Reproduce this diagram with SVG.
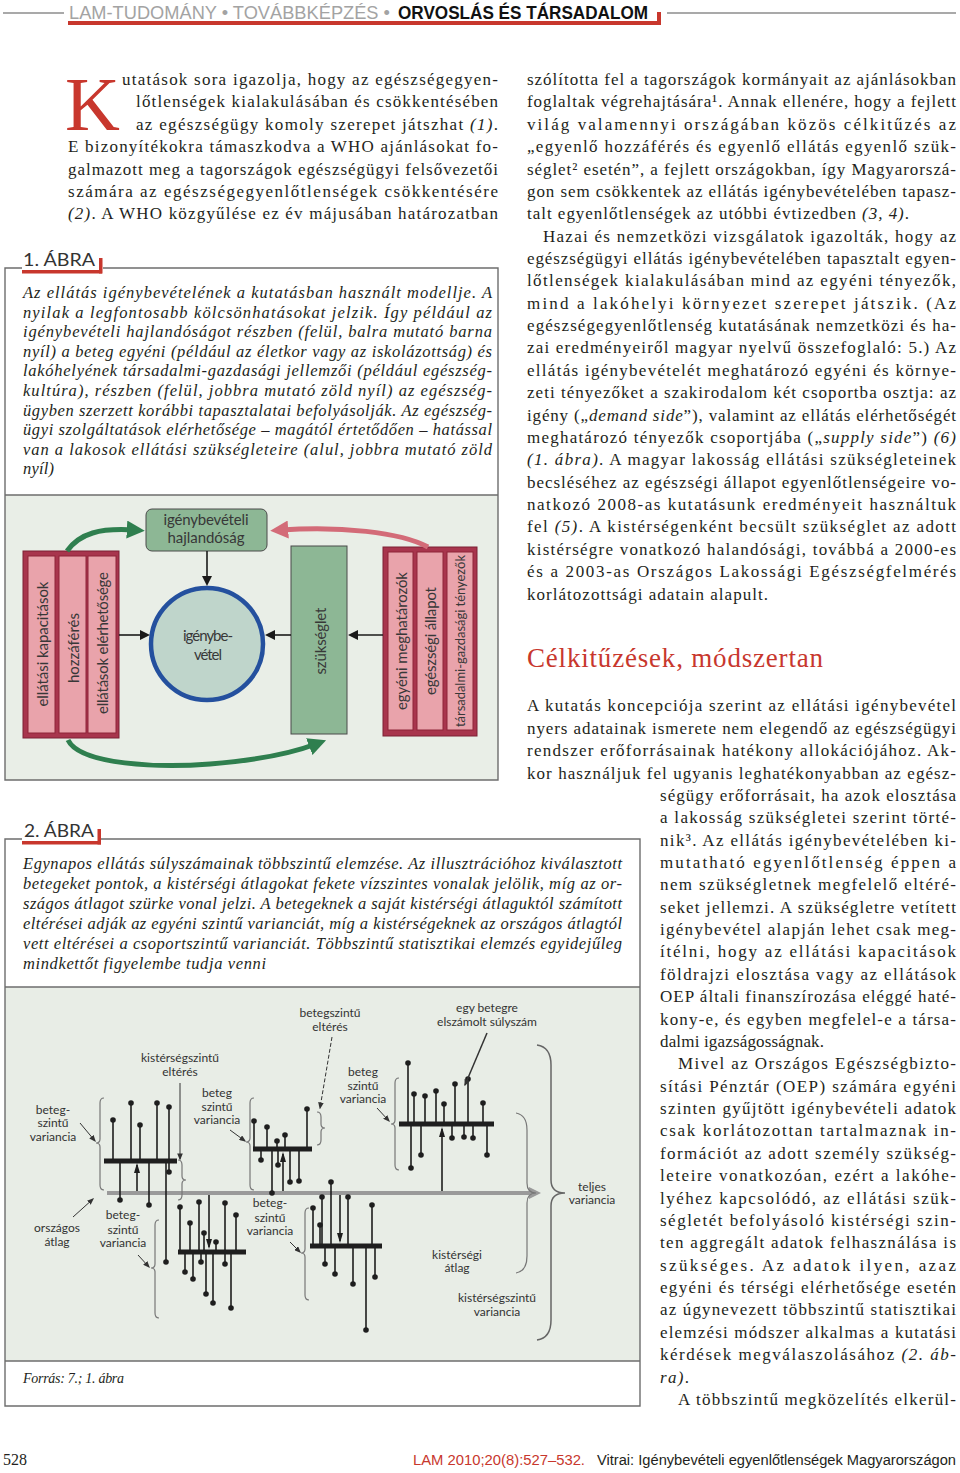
<svg xmlns="http://www.w3.org/2000/svg" width="960" height="1473" viewBox="0 0 960 1473">
<defs>
<style>
.b{font-family:"Liberation Serif","Times New Roman",serif;font-size:17px;fill:#231f20}
.i{font-style:italic}
.c{font-family:"Liberation Serif","Times New Roman",serif;font-style:italic;font-size:16.5px;fill:#231f20}
.lab{font-family:Lato,"Open Sans",sans-serif;font-size:17px;fill:#333}
.v{font-family:Lato,"Open Sans",sans-serif;font-size:15px;fill:#383838;text-anchor:middle;dominant-baseline:central}
.h{font-family:Lato,"Open Sans",sans-serif;font-size:15px;fill:#383838;text-anchor:middle}
.t2{font-family:Lato,"Open Sans",sans-serif;font-size:12px;fill:#333;text-anchor:middle}
.frame{fill:none;stroke:#6d6d6d;stroke-width:1.4}
.red{fill:#c8372d}
.stem{stroke:#1e1e1e;stroke-width:1.6;fill:none}
.bar{stroke:#1e1e1e;stroke-width:5}
.dot{fill:#1e1e1e}
.brace{fill:none;stroke:#777;stroke-width:1.2}
.ptr{stroke:#333;stroke-width:1;fill:none}
.pink{fill:#e9a3ab;stroke:#8e2438;stroke-width:1}
.crim{fill:#a8354d;stroke:#7d2035;stroke-width:1}
.grn{fill:#8db795;stroke:#4a4a4a;stroke-width:1}
.ka{stroke:#1a1a1a;stroke-width:1.6;fill:none}
</style>
<marker id="mk" viewBox="0 0 10 10" refX="8" refY="5" markerWidth="10" markerHeight="10" markerUnits="userSpaceOnUse" orient="auto"><path d="M0,0 L10,5 L0,10 z" fill="#1a1a1a"/></marker>
<marker id="mg" viewBox="0 0 10 10" refX="4" refY="5" markerWidth="18" markerHeight="18" markerUnits="userSpaceOnUse" orient="auto"><path d="M0,0 L10,5 L0,10 z" fill="#2f7f4f"/></marker>
<marker id="mr" viewBox="0 0 10 10" refX="4" refY="5" markerWidth="18" markerHeight="18" markerUnits="userSpaceOnUse" orient="auto"><path d="M0,0 L10,5 L0,10 z" fill="#d36b78"/></marker>
<marker id="ma" viewBox="0 0 10 6" refX="8" refY="3" markerWidth="10" markerHeight="6" markerUnits="userSpaceOnUse" orient="auto"><path d="M0,0 L10,3 L0,6 z" fill="#1e1e1e"/></marker>
<marker id="ms" viewBox="0 0 10 8" refX="8" refY="4" markerWidth="7" markerHeight="5.6" markerUnits="userSpaceOnUse" orient="auto"><path d="M0,0 L10,4 L0,8 z" fill="#333"/></marker>
</defs>
<rect width="960" height="1473" fill="#fff"/>

<!-- header -->
<g id="header">
<path d="M3,13 H64 M667,13 H956" stroke="#555" stroke-width="1.2"/>
<rect class="red" x="68" y="21" width="593" height="4"/>
<rect class="red" x="657" y="12" width="4" height="13"/>
<text x="69" y="19" textLength="321" lengthAdjust="spacingAndGlyphs" style="font-family:'Liberation Sans',sans-serif;font-size:19px;fill:#a3a3a3">LAM-TUDOMÁNY • TOVÁBBKÉPZÉS •</text>
<text x="398" y="19" textLength="250" lengthAdjust="spacingAndGlyphs" style="font-family:'Liberation Sans',sans-serif;font-size:19px;font-weight:bold;fill:#111">ORVOSLÁS ÉS TÁRSADALOM</text>
</g>

<!-- left column intro -->
<g id="intro">
<text x="65" y="130" style="font-family:'Liberation Serif',serif;font-size:76px;fill:#c8372d">K</text>
<text class="b" x="122" y="85" textLength="376">utatások sora igazolja, hogy az egészségegyen-</text>
<text class="b" x="136" y="107.4" textLength="362">lőtlenségek kialakulásában és csökkentésében</text>
<text class="b" x="136" y="129.7" textLength="362">az egészségügy komoly szerepet játszhat <tspan class="i">(1)</tspan>.</text>
<text class="b" x="68" y="152.1" textLength="430">E bizonyítékokra támaszkodva a WHO ajánlásokat fo-</text>
<text class="b" x="68" y="174.5" textLength="430">galmazott meg a tagországok egészségügyi felsővezetői</text>
<text class="b" x="68" y="196.9" textLength="430">számára az egészségegyenlőtlenségek csökkentésére</text>
<text class="b" x="68" y="219.2" textLength="430"><tspan class="i">(2)</tspan>. A WHO közgyűlése ez év májusában határozatban</text>
</g>

<!-- figure 1 -->
<g id="fig1">
<rect x="5" y="495" width="493" height="285" fill="#e9eee7"/>
<path class="frame" d="M22,268 H5 V780 H498 V268 H103 M5,495 H498"/>
<rect class="red" x="22" y="270" width="80" height="3.5"/>
<rect class="red" x="99" y="258" width="3.5" height="15.5"/>
<text class="lab" x="23" y="266" textLength="72" lengthAdjust="spacingAndGlyphs">1. ÁBRA</text>
<text class="c" x="23" y="298" textLength="469">Az ellátás igénybevételének a kutatásban használt modellje. A</text>
<text class="c" x="23" y="317.6" textLength="469">nyilak a legfontosabb kölcsönhatásokat jelzik. Így például az</text>
<text class="c" x="23" y="337.2" textLength="469">igénybevételi hajlandóságot részben (felül, balra mutató barna</text>
<text class="c" x="23" y="356.8" textLength="469">nyíl) a beteg egyéni (például az életkor vagy az iskolázottság) és</text>
<text class="c" x="23" y="376.4" textLength="469">lakóhelyének társadalmi-gazdasági jellemzői (például egészség-</text>
<text class="c" x="23" y="396" textLength="469">kultúra), részben (felül, jobbra mutató zöld nyíl) az egészség-</text>
<text class="c" x="23" y="415.6" textLength="469">ügyben szerzett korábbi tapasztalatai befolyásolják. Az egészség-</text>
<text class="c" x="23" y="435.2" textLength="469">ügyi szolgáltatások elérhetősége – magától értetődően – hatással</text>
<text class="c" x="23" y="454.8" textLength="469">van a lakosok ellátási szükségleteire (alul, jobbra mutató zöld</text>
<text class="c" x="23" y="474.4" textLength="31">nyíl)</text>

<g id="supply">
<rect class="crim" x="23" y="551" width="96" height="187"/>
<rect class="pink" x="28" y="556" width="27" height="177"/>
<rect class="pink" x="59" y="556" width="27" height="177"/>
<rect class="pink" x="88" y="556" width="28" height="177"/>
<text class="v" x="42" y="644" transform="rotate(-90 42 644)" textLength="125">ellátási kapacitások</text>
<text class="v" x="73" y="648" transform="rotate(-90 73 648)" textLength="70">hozzáférés</text>
<text class="v" x="102" y="643" transform="rotate(-90 102 643)" textLength="142">ellátások elérhetősége</text>
</g>
<g id="hajlandosag">
<rect class="grn" x="146" y="509" width="121" height="42" rx="6"/>
<text class="h" x="206" y="525" textLength="85">igénybevételi</text>
<text class="h" x="206" y="543" textLength="77">hajlandóság</text>
</g>
<g id="igenybevetel">
<circle cx="207" cy="644" r="56" fill="#bfd5cb" stroke="#24509e" stroke-width="4.5"/>
<text class="h" x="208" y="641" textLength="50">igénybe-</text>
<text class="h" x="208" y="660" textLength="28">vétel</text>
</g>
<g id="szukseglet">
<rect class="grn" x="291" y="546" width="56" height="188"/>
<text class="v" x="320" y="641" transform="rotate(-90 320 641)" textLength="67">szükséglet</text>
</g>
<g id="demand">
<rect class="crim" x="383" y="547" width="94" height="189"/>
<rect class="pink" x="388" y="552" width="25" height="178"/>
<rect class="pink" x="417" y="552" width="26" height="178"/>
<rect class="pink" x="447" y="552" width="26" height="178"/>
<text class="v" x="401" y="641" transform="rotate(-90 401 641)" textLength="138">egyéni meghatározók</text>
<text class="v" x="430" y="641" transform="rotate(-90 430 641)" textLength="108">egészségi állapot</text>
<text class="v" x="460" y="641" transform="rotate(-90 460 641)" textLength="172" style="font-size:13px">társadalmi-gazdasági tényezők</text>
</g>
<g id="fig1-connectors">
<path class="ka" d="M207,551 V584" marker-end="url(#mk)"/>
<path class="ka" d="M119,635 H148" marker-end="url(#mk)"/>
<path class="ka" d="M291,635 H267" marker-end="url(#mk)"/>
<path class="ka" d="M383,635 H350" marker-end="url(#mk)"/>
<path d="M67,551 C80,533 100,528 134,530" fill="none" stroke="#2f7f4f" stroke-width="5" marker-end="url(#mg)"/>
<path d="M428,547 C400,532 340,526 281,530" fill="none" stroke="#d36b78" stroke-width="5" marker-end="url(#mr)"/>
<path d="M68,740 C80,765 160,768 210,764 C260,760 295,752 316,744" fill="none" stroke="#2f7f4f" stroke-width="5" marker-end="url(#mg)"/>
</g>
</g>

<!-- figure 2 -->
<g id="fig2">
<rect x="5" y="987" width="635" height="374" fill="#e8ede6"/>
<path class="frame" d="M22,839 H5 V1406 H640 V839 H101 M5,987 H640 M5,1361 H640"/>
<rect class="red" x="22" y="841" width="79" height="3.5"/>
<rect class="red" x="97.5" y="829" width="3.5" height="15.5"/>
<text class="lab" x="24" y="837" textLength="70" lengthAdjust="spacingAndGlyphs">2. ÁBRA</text>
<text class="c" x="23" y="869" textLength="599">Egynapos ellátás súlyszámainak többszintű elemzése. Az illusztrációhoz kiválasztott</text>
<text class="c" x="23" y="889" textLength="599">betegeket pontok, a kistérségi átlagokat fekete vízszintes vonalak jelölik, míg az or-</text>
<text class="c" x="23" y="909" textLength="599">szágos átlagot szürke vonal jelzi. A betegeknek a saját kistérségi átlaguktól számított</text>
<text class="c" x="23" y="929" textLength="599">eltérései adják az egyéni szintű varianciát, míg a kistérségeknek az országos átlagtól</text>
<text class="c" x="23" y="949" textLength="599">vett eltérései a csoportszintű varianciát. Többszintű statisztikai elemzés egyidejűleg</text>
<text class="c" x="23" y="969" textLength="243">mindkettőt figyelembe tudja venni</text>
<text class="c" x="23" y="1383" style="font-size:14px" textLength="101">Forrás: 7.; 1. ábra</text>

<g id="national-mean">
<path d="M107,1193 H531" stroke="#9a9a9a" stroke-width="4"/>
<polygon points="529,1187 541,1193 529,1199" fill="#9a9a9a"/>
</g>

<g id="region1">
<path class="stem" d="M113,1161V1120 M131,1161V1103 M140,1161V1125 M157,1161V1103 M169,1161V1107 M120,1161V1200 M149,1161V1205 M169,1161V1172 M166,1161V1262"/>
<path class="bar" d="M104,1161 H177"/>
<g class="dot"><circle cx="113" cy="1120" r="2.8"/><circle cx="131" cy="1103" r="2.8"/><circle cx="140" cy="1125" r="2.8"/><circle cx="157" cy="1103" r="2.8"/><circle cx="169" cy="1107" r="2.8"/><circle cx="120" cy="1200" r="2.8"/><circle cx="149" cy="1205" r="2.8"/><circle cx="169" cy="1172" r="2.8"/><circle cx="166" cy="1262" r="2.8"/></g>
</g>
<g id="region2">
<path class="stem" d="M254,1149V1121 M267,1149V1127 M277,1149V1141 M285,1149V1135 M307,1149V1109 M261,1149V1160 M278,1149V1165 M290,1149V1182 M299,1149V1181 M272,1149V1193"/>
<path class="bar" d="M253,1149 H312"/>
<g class="dot"><circle cx="254" cy="1121" r="2.8"/><circle cx="267" cy="1127" r="2.8"/><circle cx="277" cy="1141" r="2.8"/><circle cx="285" cy="1135" r="2.8"/><circle cx="307" cy="1109" r="2.8"/><circle cx="261" cy="1160" r="2.8"/><circle cx="278" cy="1165" r="2.8"/><circle cx="290" cy="1182" r="2.8"/><circle cx="299" cy="1181" r="2.8"/><circle cx="272" cy="1193" r="2.8"/></g>
</g>
<g id="region3">
<path class="stem" d="M408,1124V1063 M414,1124V1094 M425,1124V1096 M436,1124V1091 M444,1124V1104 M455,1124V1084 M468,1124V1079 M483,1124V1103 M411,1124V1168 M421,1124V1155 M452,1124V1138 M464,1124V1137 M473,1124V1138 M487,1124V1155"/>
<path class="bar" d="M399,1124 H494"/>
<g class="dot"><circle cx="408" cy="1063" r="2.8"/><circle cx="414" cy="1094" r="2.8"/><circle cx="425" cy="1096" r="2.8"/><circle cx="436" cy="1091" r="2.8"/><circle cx="444" cy="1104" r="2.8"/><circle cx="455" cy="1084" r="2.8"/><circle cx="468" cy="1079" r="2.8"/><circle cx="483" cy="1103" r="2.8"/><circle cx="411" cy="1168" r="2.8"/><circle cx="421" cy="1155" r="2.8"/><circle cx="452" cy="1138" r="2.8"/><circle cx="464" cy="1137" r="2.8"/><circle cx="473" cy="1138" r="2.8"/><circle cx="487" cy="1155" r="2.8"/></g>
</g>
<g id="region4">
<path class="stem" d="M180,1252V1207 M190,1252V1223 M199,1252V1202 M204,1252V1233 M216,1252V1242 M225,1252V1203 M236,1252V1215 M185,1252V1272 M193,1252V1279 M201,1252V1262 M206,1252V1294 M213,1252V1303 M225,1252V1264 M231,1252V1308"/>
<path class="bar" d="M178,1252 H246"/>
<g class="dot"><circle cx="180" cy="1207" r="2.8"/><circle cx="190" cy="1223" r="2.8"/><circle cx="199" cy="1202" r="2.8"/><circle cx="204" cy="1233" r="2.8"/><circle cx="216" cy="1242" r="2.8"/><circle cx="225" cy="1203" r="2.8"/><circle cx="236" cy="1215" r="2.8"/><circle cx="185" cy="1272" r="2.8"/><circle cx="193" cy="1279" r="2.8"/><circle cx="201" cy="1262" r="2.8"/><circle cx="206" cy="1294" r="2.8"/><circle cx="213" cy="1303" r="2.8"/><circle cx="225" cy="1264" r="2.8"/><circle cx="231" cy="1308" r="2.8"/></g>
</g>
<g id="region5">
<path class="stem" d="M313,1246V1208 M320,1246V1225 M322,1246V1197 M331,1246V1182 M348,1246V1197 M372,1246V1205 M325,1246V1264 M335,1246V1274 M353,1246V1284 M375,1246V1277 M366,1246V1330"/>
<path class="bar" d="M310,1246 H382"/>
<g class="dot"><circle cx="313" cy="1208" r="2.8"/><circle cx="320" cy="1225" r="2.8"/><circle cx="322" cy="1197" r="2.8"/><circle cx="331" cy="1182" r="2.8"/><circle cx="348" cy="1197" r="2.8"/><circle cx="372" cy="1205" r="2.8"/><circle cx="325" cy="1264" r="2.8"/><circle cx="335" cy="1274" r="2.8"/><circle cx="353" cy="1284" r="2.8"/><circle cx="375" cy="1277" r="2.8"/><circle cx="366" cy="1330" r="2.8"/></g>
</g>

<g id="fig2-connectors">
<path class="stem" d="M137,1191 V1165" marker-end="url(#ma)"/>
<path class="stem" d="M283,1191 V1154" marker-end="url(#ma)"/>
<path class="stem" d="M442,1191 V1129" marker-end="url(#ma)"/>
<path class="stem" d="M209,1195 V1247" marker-end="url(#ma)"/>
<path class="stem" d="M340,1195 V1241" marker-end="url(#ma)"/>
<path class="brace" d="M104,1098 Q100,1098 100,1103 V1139 Q100,1143 96,1143 Q100,1143 100,1147 V1185 Q100,1190 104,1190"/>
<path class="brace" d="M254,1098 Q250,1098 250,1103 V1138 Q250,1142 246,1142 Q250,1142 250,1146 V1185 Q250,1190 254,1190"/>
<path class="brace" d="M399,1078 Q395,1078 395,1083 V1120 Q395,1124 391,1124 Q395,1124 395,1128 V1165 Q395,1170 399,1170"/>
<path class="brace" d="M159,1220 Q155,1220 155,1225 V1264 Q155,1268 151,1268 Q155,1268 155,1272 V1313 Q155,1318 159,1318"/>
<path class="brace" d="M309,1208 Q305,1208 305,1213 V1249 Q305,1253 301,1253 Q305,1253 305,1257 V1295 Q305,1300 309,1300"/>
<path class="brace" d="M178,1160 Q182,1160 182,1165 V1176 Q182,1180 186,1180 Q182,1180 182,1184 V1195 Q182,1200 178,1200"/>
<path class="brace" d="M317,1112 Q321,1112 321,1117 V1124 Q321,1128 325,1128 Q321,1128 321,1132 V1140 Q321,1145 317,1145"/>
<path class="brace" d="M516,1113 Q527,1115 527,1130 V1183 Q527,1193 536,1193 Q527,1193 527,1203 V1256 Q527,1271 516,1273"/>
<path class="brace" style="stroke:#666;stroke-width:1.5" d="M537,1045 Q551,1047 551,1065 V1180 Q551,1193 565,1193 Q551,1193 551,1206 V1320 Q551,1338 537,1340"/>
<path class="ptr" d="M80,1123 L95,1141" marker-end="url(#ms)"/>
<path class="ptr" d="M230,1130 L245,1141" marker-end="url(#ms)"/>
<path class="ptr" d="M377,1108 L389,1121" marker-end="url(#ms)"/>
<path class="ptr" d="M138,1255 L149,1267" marker-end="url(#ms)"/>
<path class="ptr" d="M290,1242 L300,1252" marker-end="url(#ms)"/>
<path class="ptr" d="M73,1217 L93,1199" marker-end="url(#ms)"/>
<path class="ptr" d="M180,1083 V1159" marker-end="url(#ms)"/>
<path class="ptr" stroke-dasharray="4 2" d="M332,1037 L320,1108" marker-end="url(#ms)"/>
<path class="ptr" style="stroke-width:1.5" d="M487,1033 L465,1085" marker-end="url(#ms)"/>
</g>

<g id="fig2-labels">
<text class="t2" x="330" y="1017">betegszintű</text><text class="t2" x="330" y="1031">eltérés</text>
<text class="t2" x="487" y="1012">egy betegre</text><text class="t2" x="487" y="1026">elszámolt súlyszám</text>
<text class="t2" x="180" y="1062">kistérségszintű</text><text class="t2" x="180" y="1076">eltérés</text>
<text class="t2" x="363" y="1076">beteg</text><text class="t2" x="363" y="1090">szintű</text><text class="t2" x="363" y="1103">variancia</text>
<text class="t2" x="217" y="1097">beteg</text><text class="t2" x="217" y="1111">szintű</text><text class="t2" x="217" y="1124">variancia</text>
<text class="t2" x="53" y="1114">beteg-</text><text class="t2" x="53" y="1127">szintű</text><text class="t2" x="53" y="1141">variancia</text>
<text class="t2" x="592" y="1191">teljes</text><text class="t2" x="592" y="1204">variancia</text>
<text class="t2" x="270" y="1207">beteg-</text><text class="t2" x="270" y="1222">szintű</text><text class="t2" x="270" y="1235">variancia</text>
<text class="t2" x="123" y="1219">beteg-</text><text class="t2" x="123" y="1234">szintű</text><text class="t2" x="123" y="1247">variancia</text>
<text class="t2" x="57" y="1232">országos</text><text class="t2" x="57" y="1246">átlag</text>
<text class="t2" x="457" y="1259">kistérségi</text><text class="t2" x="457" y="1272">átlag</text>
<text class="t2" x="497" y="1302">kistérségszintű</text><text class="t2" x="497" y="1316">variancia</text>
</g>
</g>

<!-- right column -->
<g id="right-column">
<text class="b" x="527" y="85" textLength="429">szólította fel a tagországok kormányait az ajánlásokban</text>
<text class="b" x="527" y="107.4" textLength="429">foglaltak végrehajtására¹. Annak ellenére, hogy a fejlett</text>
<text class="b" x="527" y="129.7" textLength="429">világ valamennyi országában közös célkitűzés az</text>
<text class="b" x="527" y="152.1" textLength="429">„egyenlő hozzáférés és egyenlő ellátás egyenlő szük-</text>
<text class="b" x="527" y="174.5" textLength="429">séglet² esetén”, a fejlett országokban, így Magyarorszá-</text>
<text class="b" x="527" y="196.9" textLength="429">gon sem csökkentek az ellátás igénybevételében tapasz-</text>
<text class="b" x="527" y="219.2" textLength="382">talt egyenlőtlenségek az utóbbi évtizedben <tspan class="i">(3, 4)</tspan>.</text>
<text class="b" x="543" y="241.6" textLength="413">Hazai és nemzetközi vizsgálatok igazolták, hogy az</text>
<text class="b" x="527" y="264" textLength="429">egészségügyi ellátás igénybevételében tapasztalt egyen-</text>
<text class="b" x="527" y="286.3" textLength="429">lőtlenségek kialakulásában mind az egyéni tényezők,</text>
<text class="b" x="527" y="308.7" textLength="429">mind a lakóhelyi környezet szerepet játszik. (Az</text>
<text class="b" x="527" y="331.1" textLength="429">egészségegyenlőtlenség kutatásának nemzetközi és ha-</text>
<text class="b" x="527" y="353.4" textLength="429">zai eredményeiről magyar nyelvű összefoglaló: 5.) Az</text>
<text class="b" x="527" y="375.8" textLength="429">ellátás igénybevételét meghatározó egyéni és környe-</text>
<text class="b" x="527" y="398.2" textLength="429">zeti tényezőket a szakirodalom két csoportba osztja: az</text>
<text class="b" x="527" y="420.6" textLength="429">igény („<tspan class="i">demand side</tspan>”), valamint az ellátás elérhetőségét</text>
<text class="b" x="527" y="442.9" textLength="429">meghatározó tényezők csoportjába („<tspan class="i">supply side</tspan>”) <tspan class="i">(6)</tspan></text>
<text class="b" x="527" y="465.3" textLength="429"><tspan class="i">(1. ábra)</tspan>. A magyar lakosság ellátási szükségleteinek</text>
<text class="b" x="527" y="487.7" textLength="429">becsléséhez az egészségi állapot egyenlőtlenségeire vo-</text>
<text class="b" x="527" y="510" textLength="429">natkozó 2008-as kutatásunk eredményeit használtuk</text>
<text class="b" x="527" y="532.4" textLength="429">fel <tspan class="i">(5)</tspan>. A kistérségenként becsült szükséglet az adott</text>
<text class="b" x="527" y="554.8" textLength="429">kistérségre vonatkozó halandósági, továbbá a 2000-es</text>
<text class="b" x="527" y="577.1" textLength="429">és a 2003-as Országos Lakossági Egészségfelmérés</text>
<text class="b" x="527" y="599.5" textLength="241">korlátozottsági adatain alapult.</text>

<text x="527" y="667" textLength="296" style="font-family:'Liberation Serif',serif;font-size:27px;fill:#c8372d">Célkitűzések, módszertan</text>

<text class="b" x="527" y="711.4" textLength="429">A kutatás koncepciója szerint az ellátási igénybevétel</text>
<text class="b" x="527" y="733.7" textLength="429">nyers adatainak ismerete nem elegendő az egészségügyi</text>
<text class="b" x="527" y="756.1" textLength="429">rendszer erőforrásainak hatékony allokációjához. Ak-</text>
<text class="b" x="527" y="778.5" textLength="429">kor használjuk fel ugyanis leghatékonyabban az egész-</text>
<text class="b" x="660" y="800.8" textLength="296">ségügy erőforrásait, ha azok elosztása</text>
<text class="b" x="660" y="823.2" textLength="296">a lakosság szükségletei szerint törté-</text>
<text class="b" x="660" y="845.6" textLength="296">nik³. Az ellátás igénybevételében ki-</text>
<text class="b" x="660" y="868" textLength="296">mutatható egyenlőtlenség éppen a</text>
<text class="b" x="660" y="890.3" textLength="296">nem szükségletnek megfelelő eltéré-</text>
<text class="b" x="660" y="912.7" textLength="296">seket jellemzi. A szükségletre vetített</text>
<text class="b" x="660" y="935.1" textLength="296">igénybevétel alapján lehet csak meg-</text>
<text class="b" x="660" y="957.4" textLength="296">ítélni, hogy az ellátási kapacitások</text>
<text class="b" x="660" y="979.8" textLength="296">földrajzi elosztása vagy az ellátások</text>
<text class="b" x="660" y="1002.2" textLength="296">OEP általi finanszírozása eléggé haté-</text>
<text class="b" x="660" y="1024.5" textLength="296">kony-e, és egyben megfelel-e a társa-</text>
<text class="b" x="660" y="1046.9" textLength="164">dalmi igazságosságnak.</text>
<text class="b" x="678" y="1069.3" textLength="278">Mivel az Országos Egészségbizto-</text>
<text class="b" x="660" y="1091.7" textLength="296">sítási Pénztár (OEP) számára egyéni</text>
<text class="b" x="660" y="1114" textLength="296">szinten gyűjtött igénybevételi adatok</text>
<text class="b" x="660" y="1136.4" textLength="296">csak korlátozottan tartalmaznak in-</text>
<text class="b" x="660" y="1158.8" textLength="296">formációt az adott személy szükség-</text>
<text class="b" x="660" y="1181.1" textLength="296">leteire vonatkozóan, ezért a lakóhe-</text>
<text class="b" x="660" y="1203.5" textLength="296">lyéhez kapcsolódó, az ellátási szük-</text>
<text class="b" x="660" y="1225.9" textLength="296">ségletét befolyásoló kistérségi szin-</text>
<text class="b" x="660" y="1248.2" textLength="296">ten aggregált adatok felhasználása is</text>
<text class="b" x="660" y="1270.6" textLength="296">szükséges. Az adatok ilyen, azaz</text>
<text class="b" x="660" y="1293" textLength="296">egyéni és térségi elérhetősége esetén</text>
<text class="b" x="660" y="1315.4" textLength="296">az úgynevezett többszintű statisztikai</text>
<text class="b" x="660" y="1337.7" textLength="296">elemzési módszer alkalmas a kutatási</text>
<text class="b" x="660" y="1360.1" textLength="296">kérdések megválaszolásához <tspan class="i">(2. áb-</tspan></text>
<text class="b" x="660" y="1382.5" textLength="29"><tspan class="i">ra)</tspan>.</text>
<text class="b" x="678" y="1404.8" textLength="278">A többszintű megközelítés elkerül-</text>
</g>

<!-- footer -->
<g id="footer">
<text x="3" y="1465" textLength="24" lengthAdjust="spacingAndGlyphs" style="font-family:'Liberation Serif',serif;font-size:16px;fill:#231f20">528</text>
<text x="413" y="1465" textLength="172" lengthAdjust="spacingAndGlyphs" style="font-family:'Liberation Sans',sans-serif;font-size:14px;fill:#c8372d">LAM 2010;20(8):527–532.</text>
<text x="597" y="1465" textLength="359" lengthAdjust="spacingAndGlyphs" style="font-family:'Liberation Sans',sans-serif;font-size:14px;fill:#231f20">Vitrai: Igénybevételi egyenlőtlenségek Magyarországon</text>
</g>
</svg>
